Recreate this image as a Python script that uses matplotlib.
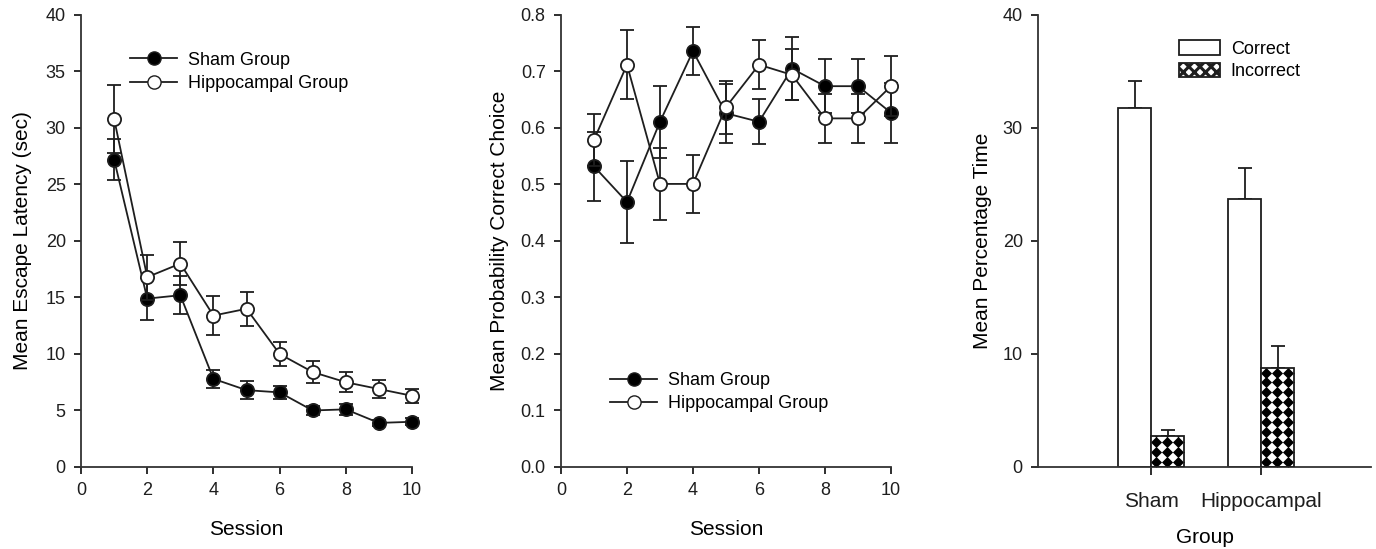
import numpy as np
import matplotlib
matplotlib.use("Agg")
import matplotlib.pyplot as plt
from matplotlib.patches import Patch
from matplotlib.lines import Line2D

plt.rcParams["font.family"] = ["Liberation Sans", "DejaVu Sans"]
plt.rcParams["hatch.linewidth"] = 2.2

# --- data ---
sessions = np.arange(1, 11)

lat_sham = [27.2, 14.9, 15.2, 7.8, 6.8, 6.6, 5.0, 5.1, 3.9, 4.0]
lat_sham_err = [1.8, 1.85, 1.7, 0.8, 0.8, 0.6, 0.4, 0.5, 0.3, 0.3]
lat_hipp = [30.8, 16.8, 18.0, 13.4, 14.0, 10.0, 8.4, 7.5, 6.9, 6.3]
lat_hipp_err = [3.0, 2.0, 1.9, 1.7, 1.5, 1.1, 1.0, 0.9, 0.8, 0.6]

prob_sham = [0.532, 0.469, 0.611, 0.736, 0.626, 0.611, 0.705, 0.674, 0.674, 0.627]
prob_sham_err = [0.061, 0.072, 0.064, 0.043, 0.052, 0.04, 0.056, 0.048, 0.048, 0.053]
prob_hipp = [0.579, 0.712, 0.501, 0.501, 0.637, 0.712, 0.694, 0.617, 0.617, 0.674]
prob_hipp_err = [0.046, 0.061, 0.063, 0.051, 0.047, 0.043, 0.045, 0.043, 0.043, 0.053]

groups = ["Sham", "Hippocampal"]
pct_correct = [31.8, 23.7]
pct_correct_err = [2.4, 2.8]
pct_incorrect = [2.7, 8.8]
pct_incorrect_err = [0.6, 1.9]

FS_TICK = 13
FS_LAB = 15
FS_LEG = 13
INK = "#1e1e1e"
LW = 1.3


def style_axes(ax):
    for s in ["top", "right"]:
        ax.spines[s].set_visible(False)
    for s in ["left", "bottom"]:
        ax.spines[s].set_linewidth(LW)
        ax.spines[s].set_color("#333333")
    ax.tick_params(direction="out", length=5, width=LW, labelsize=FS_TICK,
                   colors=INK, pad=6)


def line_panel(ax, sham, sham_err, hipp, hipp_err):
    kw = dict(color=INK, lw=LW, capsize=5, capthick=LW, elinewidth=LW,
              ms=9.5, mec=INK, mew=LW, clip_on=False)
    ax.errorbar(sessions, sham, yerr=sham_err, fmt="-o", mfc="black", zorder=3, **kw)
    ax.errorbar(sessions, hipp, yerr=hipp_err, fmt="-o", mfc="white", zorder=4, **kw)
    ax.set_xlim(0, 10)
    ax.set_xticks(range(0, 11, 2))
    ax.set_xlabel("Session", fontsize=FS_LAB, labelpad=15)
    style_axes(ax)


def legend_handles():
    return [Line2D([], [], color=INK, lw=LW, marker="o", ms=9.5, mfc="black", mec=INK),
            Line2D([], [], color=INK, lw=LW, marker="o", ms=9.5, mfc="white", mec=INK)]


fig = plt.figure(figsize=(13.76, 5.49), dpi=100)
BOT, H = 0.1494, 0.8233

# --- panel 1: escape latency ---
ax1 = fig.add_axes([0.0589, BOT, 0.2405, H])
line_panel(ax1, lat_sham, lat_sham_err, lat_hipp, lat_hipp_err)
ax1.set_ylim(0, 40)
ax1.set_yticks(range(0, 41, 5))
ax1.set_ylabel("Mean Escape Latency (sec)", fontsize=FS_LAB, labelpad=10)
ax1.legend(legend_handles(), ["Sham Group", "Hippocampal Group"], frameon=False,
           fontsize=FS_LEG, loc="upper left", bbox_to_anchor=(0.1, 0.955),
           handlelength=2.6, handletextpad=0.6, labelspacing=0.35)

# --- panel 2: probability correct choice ---
ax2 = fig.add_axes([0.4077, BOT, 0.2398, H])
line_panel(ax2, prob_sham, prob_sham_err, prob_hipp, prob_hipp_err)
ax2.set_ylim(0, 0.8)
ax2.set_yticks(np.arange(0, 0.81, 0.1))
ax2.set_yticklabels([f"{v:.1f}" for v in np.arange(0, 0.81, 0.1)])
ax2.set_ylabel("Mean Probability Correct Choice", fontsize=FS_LAB, labelpad=8)
ax2.legend(legend_handles(), ["Sham Group", "Hippocampal Group"], frameon=False,
           fontsize=FS_LEG, loc="lower left", bbox_to_anchor=(0.1, 0.085),
           handlelength=2.6, handletextpad=0.6, labelspacing=0.35)

# --- panel 3: percentage time bars ---
ax3 = fig.add_axes([0.7544, BOT, 0.242, H])
centers = np.array([1.0, 2.0])
w = 0.3
ax3.bar(centers - w / 2, pct_correct, w, color="white", edgecolor=INK,
        linewidth=LW, zorder=2)
b_inc = ax3.bar(centers + w / 2, pct_incorrect, w, color="white", edgecolor="none",
                linewidth=0, zorder=2)
ax3.errorbar(centers - w / 2, pct_correct, yerr=[np.zeros(2), pct_correct_err],
             fmt="none", ecolor=INK, elinewidth=LW, capsize=5, capthick=LW, zorder=1)
ax3.errorbar(centers + w / 2, pct_incorrect, yerr=[np.zeros(2), pct_incorrect_err],
             fmt="none", ecolor=INK, elinewidth=LW, capsize=5, capthick=LW, zorder=1)

# diamond checker pattern inside the incorrect bars
dx, dy = w / 3.0, 0.88
for rect in b_inc:
    x0, y0 = rect.get_x(), rect.get_y()
    xs = np.arange(x0 + dx * 0.45, x0 + rect.get_width() + dx, dx)
    ys = np.arange(y0 + dy / 2, y0 + rect.get_height() + dy, dy)
    gx, gy = np.meshgrid(xs, ys)
    sc = ax3.scatter(gx.ravel(), gy.ravel(), marker="D", s=32, color="black",
                     linewidths=0, zorder=2.5)
    sc.set_clip_path(rect)
# outline of the incorrect bars on top of the pattern
ax3.bar(centers + w / 2, pct_incorrect, w, fill=False, edgecolor=INK,
        linewidth=LW, zorder=3)

ax3.set_xlim(-0.03, 3.0)
ax3.set_ylim(0, 40)
ax3.set_yticks(range(0, 41, 10))
ax3.set_xticks(centers)
ax3.set_xticklabels(groups)
ax3.set_xlabel("Group", fontsize=FS_LAB, labelpad=12)
ax3.set_ylabel("Mean Percentage Time", fontsize=FS_LAB, labelpad=8)
style_axes(ax3)
ax3.tick_params(axis="x", length=6, pad=12, labelsize=FS_LAB)
ax3.legend([Patch(facecolor="white", edgecolor=INK, lw=LW),
            Patch(facecolor="white", edgecolor=INK, lw=LW, hatch="xxx")],
           ["Correct", "Incorrect"], frameon=False, fontsize=FS_LEG,
           loc="upper left", bbox_to_anchor=(0.373, 0.98),
           handlelength=2.3, handleheight=0.9, handletextpad=0.6, labelspacing=0.25)

plt.savefig("out.png", dpi=100)
plt.close()
